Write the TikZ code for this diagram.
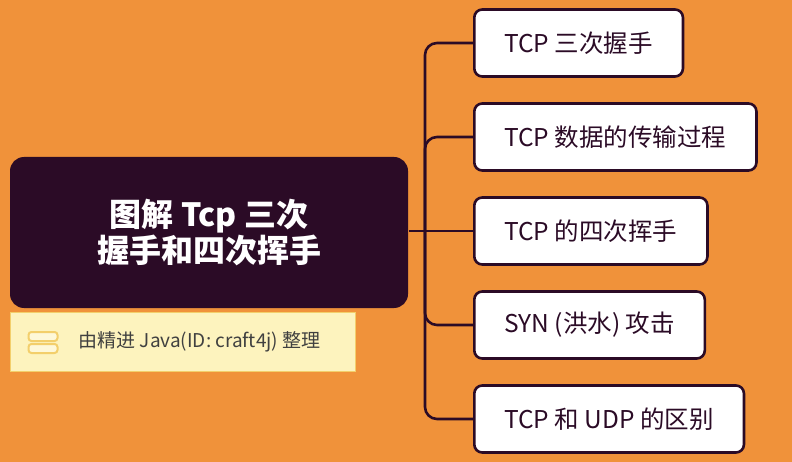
\documentclass[tikz,border=0pt]{standalone}
\usepackage{fontspec}
\setmainfont{Noto Sans CJK SC}
\definecolor{bgorange}{HTML}{F0923A}
\definecolor{darkplum}{HTML}{2B0B26}
\definecolor{noteyellow}{HTML}{FDF3BE}
\definecolor{noteedge}{HTML}{F3CF6B}
\begin{document}
\begin{tikzpicture}[x=1pt, y=-1pt, line width=2.6pt,
    topic/.style = {draw=darkplum, fill=white, rounded corners=8pt, anchor=west,
      minimum height=67pt, inner xsep=30pt, font=\fontsize{24.5}{27}\selectfont, text=darkplum},
    root/.style = {fill=darkplum, rounded corners=14pt, minimum width=398pt, minimum height=151pt,
      align=center, text=white, font=\bfseries\fontsize{32}{36}\selectfont},
    link/.style = {draw=darkplum, rounded corners=12pt}]
  \fill[bgorange] (0,0) rectangle (792,462);
  \node[root] (r) at (209,232.5) {图解 Tcp 三次\\握手和四次挥手};
  \node[fill=noteyellow, draw=noteedge, line width=1.5pt, minimum width=345pt, minimum height=59pt] (n) at (183,342) {};
  \node[draw=noteedge, fill=noteyellow!60!white, rounded corners=3pt, line width=2pt, minimum width=29pt, minimum height=9pt, inner sep=0pt] (i1) at (43,336.5) {};
  \node[draw=noteedge, fill=noteyellow!60!white, rounded corners=3pt, line width=2pt, minimum width=29pt, minimum height=9pt, inner sep=0pt] (i2) at (43,348.5) {};
  \node[anchor=west, font=\fontsize{19}{22}\selectfont, text=black!75] (nt) at (74,342) {由精进 Java(ID: craft4j) 整理};
  \node[topic] (c1) at (473,43) {TCP 三次握手};
  \node[topic] (c2) at (473,137) {TCP 数据的传输过程};
  \node[topic] (c3) at (473,231) {TCP 的四次挥手};
  \node[topic] (c4) at (473,325) {SYN (洪水) 攻击};
  \node[topic] (c5) at (473,419) {TCP 和 UDP 的区别};
  \coordinate (s) at (425,231);
  \draw[link] (r.east |- s) -- (c3.west);
  \foreach \c in {c1,c2,c4,c5}
    \draw[link] (s) |- (\c.west);
\end{tikzpicture}
\end{document}
